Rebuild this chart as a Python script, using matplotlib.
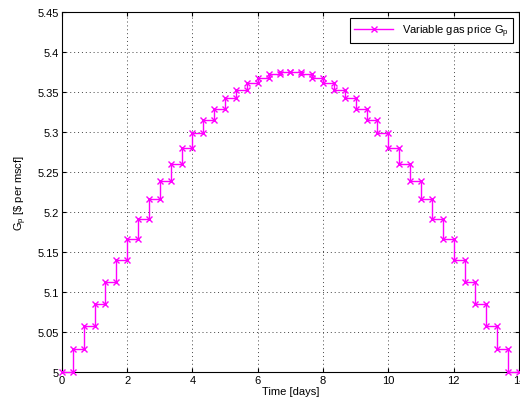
import numpy as np
import matplotlib
matplotlib.use("Agg")
import matplotlib.pyplot as plt

plt.rcParams['font.family'] = ['Liberation Sans', 'DejaVu Sans']
plt.rcParams['mathtext.default'] = 'regular'

# step edges in days (every 1/3 day) and gas price held on each step
step_edges = np.linspace(0, 14, 43)
half_prices = [5.0000, 5.0287, 5.0572, 5.0854, 5.1131, 5.1402, 5.1664,
               5.1916, 5.2158, 5.2386, 5.2601, 5.2800, 5.2983, 5.3148,
               5.3294, 5.3421, 5.3529, 5.3615, 5.3681, 5.3726, 5.3747]
gas_price = half_prices + half_prices[::-1]

x_ticks = [0, 2, 4, 6, 8, 10, 12, 14]
y_ticks = [5, 5.05, 5.1, 5.15, 5.2, 5.25, 5.3, 5.35, 5.4, 5.45]

# each step drawn as a segment with a marker at both ends
xs, ys = [], []
for k, p in enumerate(gas_price):
    xs += [step_edges[k], step_edges[k + 1]]
    ys += [p, p]

fig = plt.figure(figsize=(5.2, 4.1), dpi=100)
ax = fig.add_axes([0.119, 0.090, 0.879, 0.878])

ax.plot(xs, ys, color='#ff00ff', marker='x', markersize=4.5,
        markeredgewidth=1.0, linewidth=1.0, clip_on=False, zorder=3,
        label='Variable gas price G$_p$')

ax.set_xlim(0, 14)
ax.set_ylim(5, 5.45)
ax.set_xticks(x_ticks)
ax.set_yticks(y_ticks)
ax.set_xticklabels([str(t) for t in x_ticks])
ax.set_yticklabels(['5', '5.05', '5.1', '5.15', '5.2', '5.25', '5.3',
                    '5.35', '5.4', '5.45'])
ax.tick_params(direction='in', length=3, labelsize=8, pad=2,
               top=True, right=True)
ax.grid(True, linestyle=(0, (1, 3)), color='#444444', linewidth=0.7)
for s in ax.spines.values():
    s.set_linewidth(0.8)

ax.set_xlabel('Time [days]', fontsize=8, labelpad=1)
ax.set_ylabel('G$_p$ [\\$ per mscf]', fontsize=8, labelpad=6)

leg = ax.legend(loc='upper right', fontsize=8, fancybox=False,
                framealpha=1, edgecolor='black', borderaxespad=0.5,
                handlelength=3.5, borderpad=0.4)
leg.get_frame().set_linewidth(0.8)

fig.savefig('out.png', dpi=100)
